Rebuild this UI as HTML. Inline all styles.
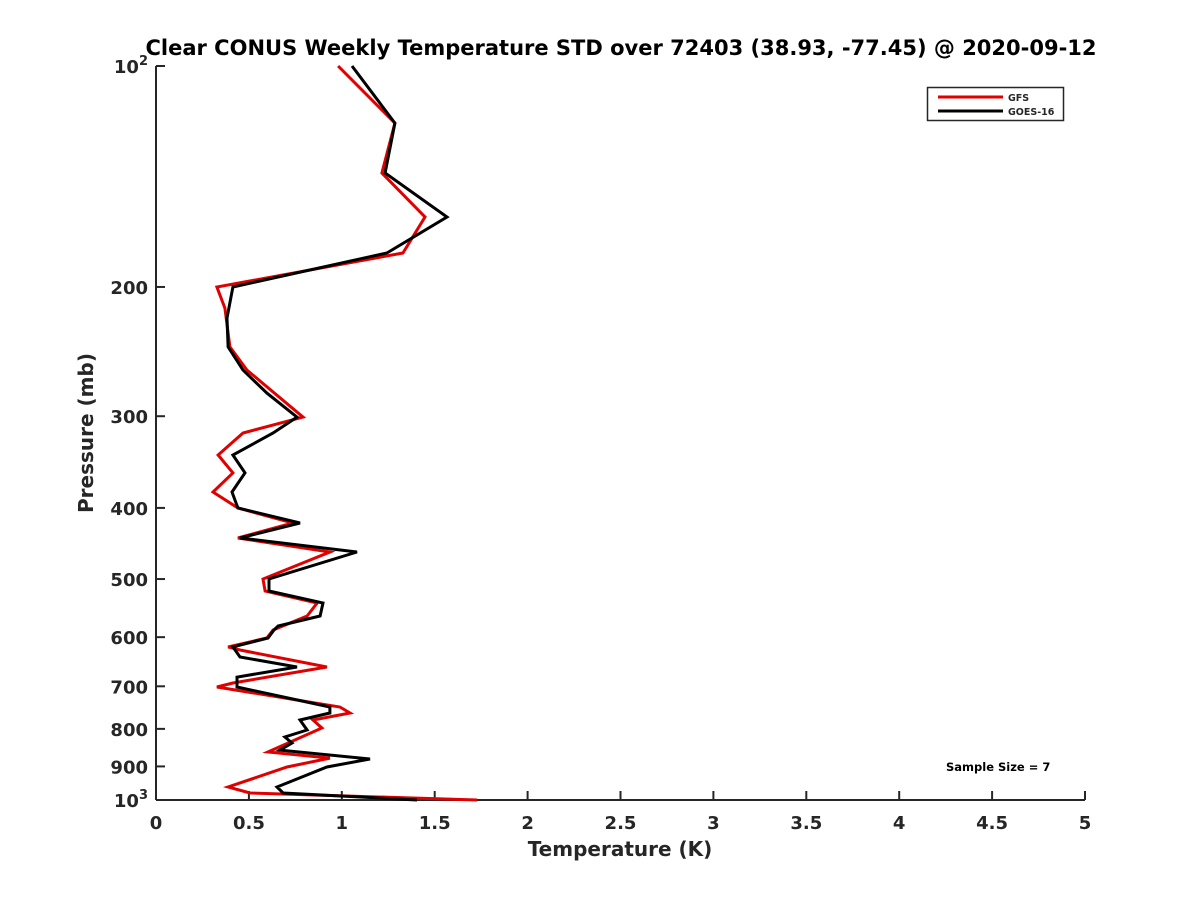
<!DOCTYPE html>
<html><head><meta charset="utf-8"><style>
body{margin:0;background:#fff}
svg text{font-family:"DejaVu Sans","Liberation Sans",sans-serif;font-weight:bold;fill:#262626}
</style></head><body>
<svg id="c" width="1200" height="900" xmlns="http://www.w3.org/2000/svg">
<rect width="1200" height="900" fill="#fff"/>
<text x="621" y="55" font-size="21" text-anchor="middle" style="fill:#000">Clear CONUS Weekly Temperature STD over 72403 (38.93, -77.45) @ 2020-09-12</text>
<g id="axes"></g>
<g id="series"></g>
<text x="620" y="856" font-size="20" text-anchor="middle">Temperature (K)</text>
<text x="0" y="0" font-size="20" text-anchor="middle" transform="translate(93,433) rotate(-90)">Pressure (mb)</text>
<g>
<rect x="927.5" y="87.5" width="136" height="33" fill="#fff" stroke="#262626" stroke-width="1.5"/>
<line x1="938" y1="97" x2="1003" y2="97" stroke="#e00000" stroke-width="3"/>
<text x="1008" y="101" font-size="9.5">GFS</text>
<line x1="938" y1="111" x2="1003" y2="111" stroke="#000" stroke-width="3"/>
<text x="1008" y="115" font-size="9.5">GOES-16</text>
</g>
<text x="946" y="771" font-size="11.5" style="fill:#000">Sample Size = 7</text>
</svg>
<script>
const xTicks=[0,0.5,1,1.5,2,2.5,3,3.5,4,4.5,5];
const xTickLabels=["0","0.5","1","1.5","2","2.5","3","3.5","4","4.5","5"];
const yTicks=[100,200,300,400,500,600,700,800,900,1000];
const yTickLabels=["10^2","200","300","400","500","600","700","800","900","10^3"];
const goesP=[100,119.6,139.9,160.6,179.8,200,220.5,241.4,259.6,279,300.8,316.2,338.8,358.4,380.5,400.1,419.4,439.6,459.3,500,519.1,539,561.4,579.3,586.6,601.5,618.7,638.5,658.9,680,701.5,746.9,761.1,778,802.9,820.6,836.2,855,879.4,901.6,960.1,978.3,1000];
const goesT=[1.055,1.286,1.233,1.566,1.243,0.414,0.382,0.388,0.468,0.597,0.759,0.630,0.414,0.479,0.409,0.441,0.775,0.452,1.082,0.608,0.608,0.899,0.883,0.657,0.635,0.603,0.414,0.452,0.759,0.436,0.436,0.936,0.936,0.775,0.813,0.694,0.732,0.667,1.152,0.920,0.651,0.684,1.405];
const gfsP=[100,119.6,139.9,160.6,179.8,200,213.7,241.4,259.6,300.8,316.2,338.8,358.4,380.5,400.1,419.4,439.6,459.3,500,519.1,539,561.4,586.6,601.5,618.7,624.6,658.9,692.8,701.5,746.9,761.1,778,797.9,860.3,876.8,901.6,960.1,978.3,1000];
const gfsT=[0.98,1.286,1.216,1.448,1.329,0.328,0.371,0.398,0.490,0.791,0.468,0.334,0.414,0.307,0.441,0.737,0.441,0.936,0.576,0.587,0.867,0.813,0.630,0.597,0.388,0.452,0.920,0.414,0.328,0.990,1.044,0.845,0.893,0.603,0.936,0.705,0.388,0.506,1.728];
const L=156,R=1085,T=66,B=800;
const xs=v=>L+(v-0)/(5-0)*(R-L);
const ys=p=>T+(Math.log10(p)-2)/(3-2)*(B-T);
const NS="http://www.w3.org/2000/svg";
function mk(tag,attrs,parent){const e=document.createElementNS(NS,tag);for(const k in attrs)e.setAttribute(k,attrs[k]);parent.appendChild(e);return e;}
const ax=document.getElementById('axes');
let a=mk('line',{x1:L,y1:B,x2:R,y2:B,stroke:'#262626','stroke-width':2},ax);


a=mk('line',{x1:L,y1:T,x2:L,y2:B,stroke:'#262626','stroke-width':2},ax);


xTicks.forEach((v,i)=>{
 const t=mk('line',{x1:xs(v),y1:B,x2:xs(v),y2:B-9,stroke:'#262626','stroke-width':2},ax);
 
 
 const tx=mk('text',{x:xs(v),y:B+29,'font-size':18,'text-anchor':'middle'},ax);
 tx.textContent=xTickLabels[i];
 
 
});
yTicks.forEach((v,i)=>{
 const t=mk('line',{x1:L,y1:ys(v),x2:L+9,y2:ys(v),stroke:'#262626','stroke-width':2},ax);
 
 
 const lab=yTickLabels[i];
 const tx=mk('text',{x:L-8,y:ys(v)+7,'font-size':18,'text-anchor':'end'},ax);
 if(lab.indexOf('^')>0){const [b,e]=lab.split('^');tx.textContent=b;const s=mk('tspan',{dy:-8,'font-size':13},tx);s.textContent=e;tx.setAttribute('x',L-8);}
 else tx.textContent=lab;
 
 
});
const sg=document.getElementById('series');
function line(P,Tv,color,name){
 const d=P.map((p,i)=>(i?'L':'M')+xs(Tv[i]).toFixed(1)+','+ys(p).toFixed(1)).join(' ');
 const e=mk('path',{d:d,fill:'none',stroke:color,'stroke-width':3,'stroke-linejoin':'miter'},sg);
 
 
}
line(gfsP,gfsT,'#e00000','gfs-line');
line(goesP,goesT,'#000','goes16-line');
</script>
</body></html>
